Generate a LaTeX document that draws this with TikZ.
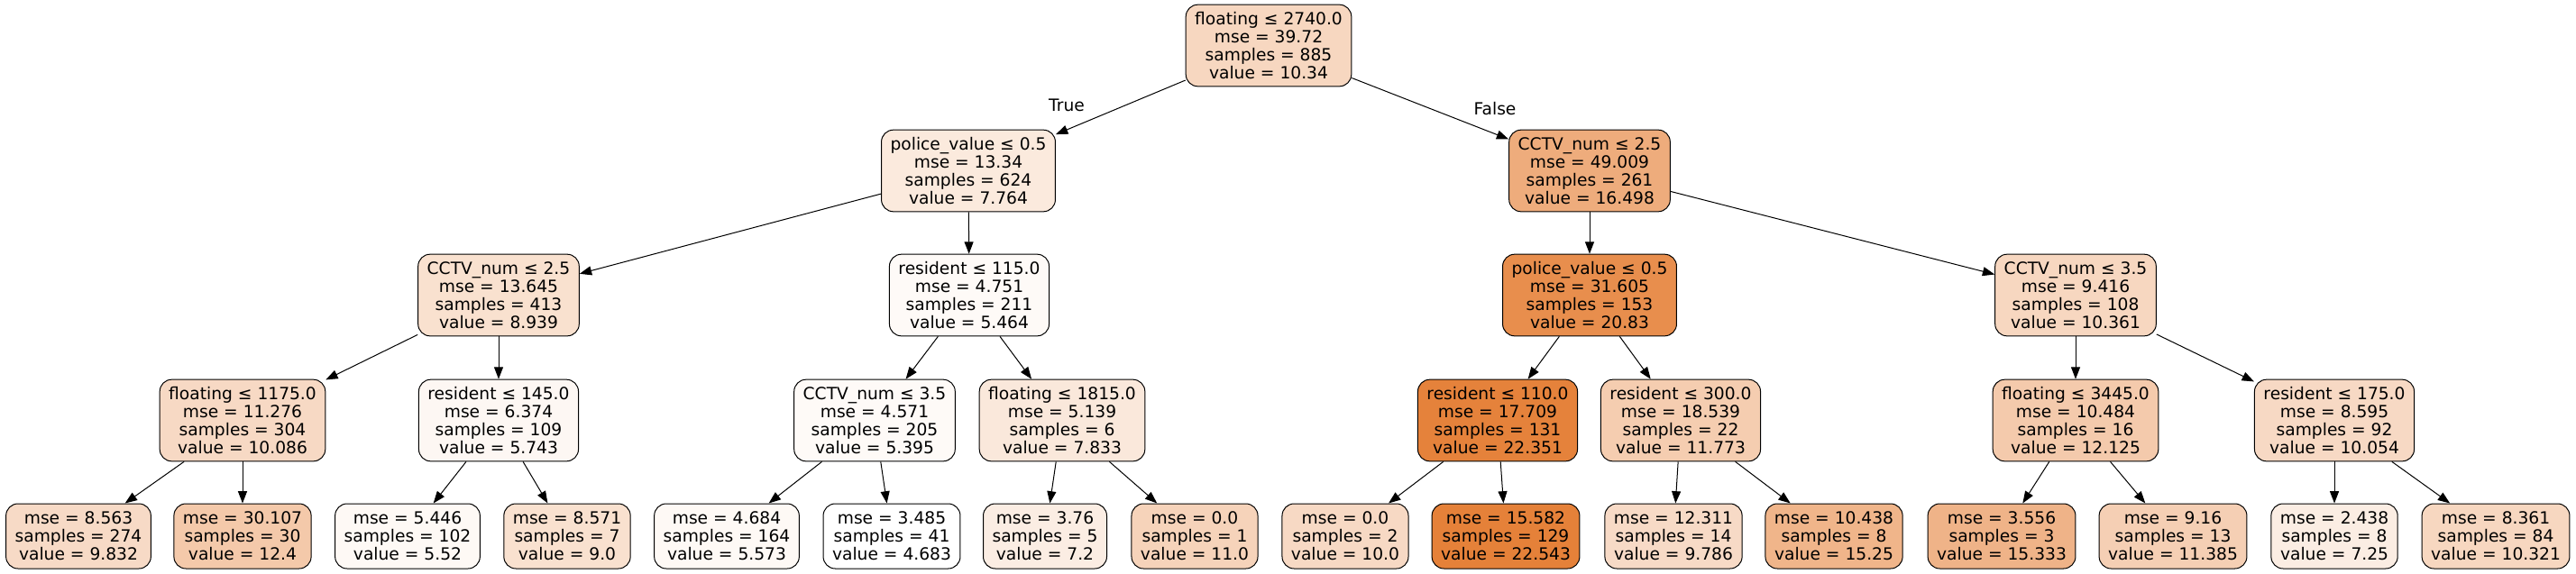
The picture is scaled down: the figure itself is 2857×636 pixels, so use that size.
\documentclass[tikz,border=0pt]{standalone}
\usepackage{fontspec}
\setmainfont{DejaVu Sans}
\usetikzlibrary{arrows.meta}
\definecolor{treeorange}{RGB}{229,129,57}

\begin{document}
\begin{tikzpicture}[x=0.75pt, y=-0.75pt]
        \tikzstyle{split} = [rectangle, rounded corners=10pt, draw=black, line width=0.75pt, align=center, font=\fontsize{14}{15}\selectfont, inner xsep=7.5pt, inner ysep=0pt, minimum height=68pt];
        \tikzstyle{leaf} = [split, minimum height=54pt];
        \tikzstyle{branch} = [draw=black, line width=0.75pt, -{Triangle[length=10pt, width=7.5pt]}];
        \tikzstyle{edgetext} = [font=\fontsize{14}{15}\selectfont];

        \useasboundingbox (0,0) rectangle (2857,636);

        \node(n0) [split, fill=treeorange!32] at (1407, 50.5) {floating ≤ 2740.0\\mse = 39.72\\samples = 885\\value = 10.34};

        \node(n1) [split, fill=treeorange!17] at (1074, 189.5) {police\_value ≤ 0.5\\mse = 13.34\\samples = 624\\value = 7.764};
        \node(n16) [split, fill=treeorange!66] at (1763, 189.5) {CCTV\_num ≤ 2.5\\mse = 49.009\\samples = 261\\value = 16.498};

        \node(n2) [split, fill=treeorange!24] at (553, 327.5) {CCTV\_num ≤ 2.5\\mse = 13.645\\samples = 413\\value = 8.939};
        \node(n9) [split, fill=treeorange!4] at (1075, 327.5) {resident ≤ 115.0\\mse = 4.751\\samples = 211\\value = 5.464};
        \node(n17) [split, fill=treeorange!90] at (1763, 327.5) {police\_value ≤ 0.5\\mse = 31.605\\samples = 153\\value = 20.83};
        \node(n24) [split, fill=treeorange!32] at (2302, 327.5) {CCTV\_num ≤ 3.5\\mse = 9.416\\samples = 108\\value = 10.361};

        \node(n3) [split, fill=treeorange!30] at (269, 466.5) {floating ≤ 1175.0\\mse = 11.276\\samples = 304\\value = 10.086};
        \node(n6) [split, fill=treeorange!6] at (553, 466.5) {resident ≤ 145.0\\mse = 6.374\\samples = 109\\value = 5.743};
        \node(n10) [split, fill=treeorange!4] at (970, 466.5) {CCTV\_num ≤ 3.5\\mse = 4.571\\samples = 205\\value = 5.395};
        \node(n13) [split, fill=treeorange!18] at (1178, 466.5) {floating ≤ 1815.0\\mse = 5.139\\samples = 6\\value = 7.833};
        \node(n18) [split, fill=treeorange!99] at (1661, 466.5) {resident ≤ 110.0\\mse = 17.709\\samples = 131\\value = 22.351};
        \node(n21) [split, fill=treeorange!40] at (1864, 466.5) {resident ≤ 300.0\\mse = 18.539\\samples = 22\\value = 11.773};
        \node(n25) [split, fill=treeorange!42] at (2302, 466.5) {floating ≤ 3445.0\\mse = 10.484\\samples = 16\\value = 12.125};
        \node(n28) [split, fill=treeorange!30] at (2589, 466.5) {resident ≤ 175.0\\mse = 8.595\\samples = 92\\value = 10.054};

        \node(n4) [leaf, fill=treeorange!29] at (87, 595) {mse = 8.563\\samples = 274\\value = 9.832};
        \node(n5) [leaf, fill=treeorange!43] at (269, 595) {mse = 30.107\\samples = 30\\value = 12.4};
        \node(n7) [leaf, fill=treeorange!5] at (452, 595) {mse = 5.446\\samples = 102\\value = 5.52};
        \node(n8) [leaf, fill=treeorange!24] at (629, 595) {mse = 8.571\\samples = 7\\value = 9.0};
        \node(n11) [leaf, fill=treeorange!5] at (806, 595) {mse = 4.684\\samples = 164\\value = 5.573};
        \node(n12) [leaf, fill=white] at (989, 595) {mse = 3.485\\samples = 41\\value = 4.683};
        \node(n14) [leaf, fill=treeorange!14] at (1159, 595) {mse = 3.76\\samples = 5\\value = 7.2};
        \node(n15) [leaf, fill=treeorange!35] at (1325, 595) {mse = 0.0\\samples = 1\\value = 11.0};
        \node(n19) [leaf, fill=treeorange!30] at (1492, 595) {mse = 0.0\\samples = 2\\value = 10.0};
        \node(n20) [leaf, fill=treeorange] at (1670, 595) {mse = 15.582\\samples = 129\\value = 22.543};
        \node(n22) [leaf, fill=treeorange!29] at (1856, 595) {mse = 12.311\\samples = 14\\value = 9.786};
        \node(n23) [leaf, fill=treeorange!59] at (2034, 595) {mse = 10.438\\samples = 8\\value = 15.25};
        \node(n26) [leaf, fill=treeorange!60] at (2220, 595) {mse = 3.556\\samples = 3\\value = 15.333};
        \node(n27) [leaf, fill=treeorange!38] at (2410, 595) {mse = 9.16\\samples = 13\\value = 11.385};
        \node(n29) [leaf, fill=treeorange!14] at (2589, 595) {mse = 2.438\\samples = 8\\value = 7.25};
        \node(n30) [leaf, fill=treeorange!32] at (2768, 595) {mse = 8.361\\samples = 84\\value = 10.321};

        \draw[branch] (n0) -- (n1);
        \draw[branch] (n0) -- (n16);
        \draw[branch] (n1) -- (n2);
        \draw[branch] (n1) -- (n9);
        \draw[branch] (n16) -- (n17);
        \draw[branch] (n16) -- (n24);
        \draw[branch] (n2) -- (n3);
        \draw[branch] (n2) -- (n6);
        \draw[branch] (n9) -- (n10);
        \draw[branch] (n9) -- (n13);
        \draw[branch] (n17) -- (n18);
        \draw[branch] (n17) -- (n21);
        \draw[branch] (n24) -- (n25);
        \draw[branch] (n24) -- (n28);
        \draw[branch] (n3) -- (n4);
        \draw[branch] (n3) -- (n5);
        \draw[branch] (n6) -- (n7);
        \draw[branch] (n6) -- (n8);
        \draw[branch] (n10) -- (n11);
        \draw[branch] (n10) -- (n12);
        \draw[branch] (n13) -- (n14);
        \draw[branch] (n13) -- (n15);
        \draw[branch] (n18) -- (n19);
        \draw[branch] (n18) -- (n20);
        \draw[branch] (n21) -- (n22);
        \draw[branch] (n21) -- (n23);
        \draw[branch] (n25) -- (n26);
        \draw[branch] (n25) -- (n27);
        \draw[branch] (n28) -- (n29);
        \draw[branch] (n28) -- (n30);

        \node(lbltrue) [edgetext] at (1183, 117) {True};
        \node(lblfalse) [edgetext] at (1658, 121) {False};

    \end{tikzpicture}
\end{document}
